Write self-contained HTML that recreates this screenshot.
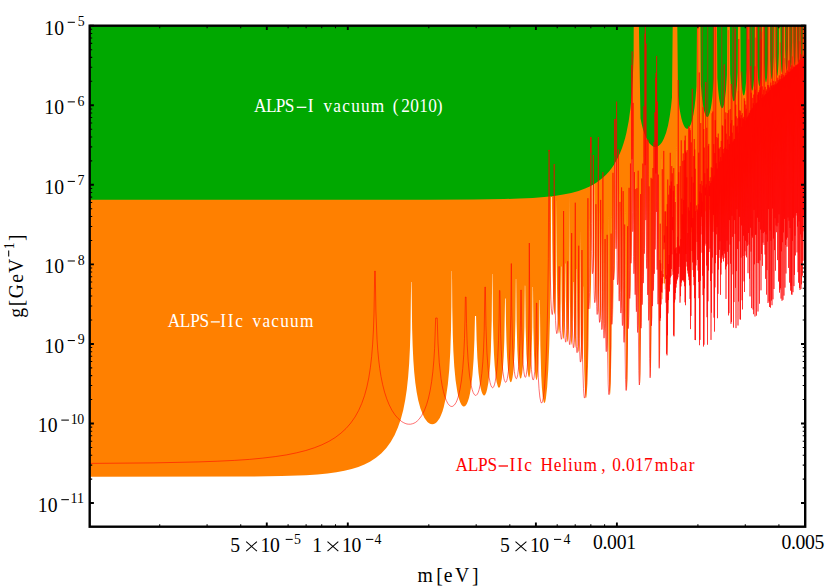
<!DOCTYPE html>
<html><head><meta charset="utf-8"><title>ALPS sensitivity</title>
<style>.tx text{font-family:"Liberation Serif",serif;font-kerning:none;}html,body{margin:0;padding:0;background:#fff;}body{width:830px;height:586px;position:relative;overflow:hidden;font-family:"Liberation Serif",serif;}</style>
</head><body>
<svg width="830" height="586" viewBox="0 0 830 586" style="position:absolute;left:0;top:0"><defs><clipPath id="c"><rect x="89.7" y="25.7" width="715.5" height="501.00000000000006"/></clipPath></defs><g clip-path="url(#c)"><path d="M89.7,25.7 L89.70,476.8 L247.66,476.6 L281.58,476.1 L305.97,475.2 L317.39,474.5 L327.43,473.5 L336.37,472.3 L344.40,470.8 L351.70,469.1 L358.33,467 L364.38,464.5 L369.91,461.7 L376.00,457.8 L381.46,453.2 L386.34,447.9 L390.69,441.9 L394.53,435.2 L397.89,427.6 L400.79,419.2 L403.25,409.9 L405.21,400.1 L406.83,389.2 L408.13,377.1 L409.16,363.4 L409.92,348.2 L410.48,330.4 L411.11,282 L411.52,282 L412.12,328.5 L412.64,345.6 L413.35,360.2 L414.22,372.2 L415.31,382.7 L416.64,392 L418.22,400.2 L420.45,408.5 L423.03,415.1 L424.45,417.9 L425.93,420.1 L427.47,421.9 L429.05,423.2 L430.65,424 L432.25,424.2 L433.84,424 L435.40,423.2 L436.91,421.9 L438.37,420.1 L439.76,417.9 L441.08,415.1 L442.48,411.4 L443.78,407.1 L446.05,396.8 L447.87,384.3 L449.28,369.2 L450.27,352.1 L450.97,331.2 L451.41,305.9 L451.68,271 L451.97,271 L452.25,307.3 L452.75,333.8 L453.39,351.6 L454.27,366.5 L455.58,380.3 L457.25,391.4 L458.23,396 L459.29,399.7 L460.42,402.7 L461.60,404.9 L462.89,406.2 L463.55,406.5 L464.20,406.5 L465.49,405.7 L466.74,404 L467.92,401.3 L469.03,397.7 L470.05,393.2 L470.98,387.7 L472.48,375 L473.62,359.2 L474.43,340.1 L474.98,316 L476.05,316 L476.60,339.6 L477.39,357.9 L478.50,372.8 L479.93,384.2 L480.75,388.5 L481.62,391.7 L482.54,394 L483.48,395.2 L483.96,395.4 L484.43,395.4 L485.37,394.4 L486.28,392.4 L487.14,389.3 L488.31,382.9 L489.33,374.3 L490.17,363.9 L490.85,351.2 L491.73,320.1 L492.17,274 L492.48,274 L492.95,321.6 L493.37,339.1 L493.95,353.8 L494.67,365.5 L495.55,374.8 L496.59,381.9 L497.75,386.2 L498.45,387.5 L498.81,387.7 L499.16,387.7 L499.86,386.9 L500.54,385.1 L501.79,378.8 L502.86,368.9 L503.68,356.4 L504.30,341.1 L505.06,298.6 L505.67,298.6 L505.99,322.9 L506.46,341.8 L507.12,357.2 L507.99,369.2 L509.02,377.4 L509.59,380.1 L510.18,381.7 L510.78,382.3 L511.38,381.7 L511.96,380.1 L512.52,377.5 L513.21,372.4 L513.82,365.7 L514.79,347.4 L515.48,319.5 L515.85,279.2 L515.86,279 L516.18,279 L516.59,321.7 L517.38,350.6 L517.98,361.9 L518.70,370.5 L519.52,376.1 L519.96,377.8 L520.41,378.6 L520.87,378.6 L521.32,377.7 L522.17,373.3 L522.92,365.9 L523.55,355.4 L524.40,327.3 L524.84,285.6 L525.21,285.7 L525.63,326.4 L526.42,354 L527.52,370.5 L528.19,375.2 L528.89,377.3 L529.28,377.2 L529.66,376.3 L530.38,372.1 L531.02,364.8 L531.55,354.8 L532.28,327.3 L532.66,287 L532.99,287 L533.37,327.7 L534.07,355.4 L535.04,372.3 L535.62,377.3 L536.24,379.8 L536.55,380 L536.86,379.5 L537.45,376.6 L537.98,371.1 L538.44,363.1 L539.15,338 L539.53,300 L539.88,300 L540.35,345.6 L541.25,376.3 L541.92,388 L542.72,396.6 L543.61,401.7 L544.08,402.8 L544.56,403 L545.23,401.7 L545.90,398.5 L547.17,387 L548.30,369 L549.26,345.2 L550.01,316.9 L550.58,283.7 L551.26,197 L551.95,197 L552.25,241.7 L552.70,274.9 L553.34,299.2 L554.12,312.5 L554.38,314.2 L554.63,314.6 L555.12,311.8 L555.55,304.2 L555.89,292.3 L556.29,260.2 L556.55,197.8 L556.98,286.4 L557.50,312.4 L558.25,328.7 L558.70,332.8 L558.93,333.6 L559.15,333.5 L559.59,330.9 L559.99,325.1 L560.64,302.7 L561.01,266.5 L561.38,266.5 L561.70,300.9 L562.24,324.4 L563.03,337.7 L563.47,339.3 L563.90,337.4 L564.40,329.9 L564.80,317.7 L565.16,295.7 L565.39,263.5 L565.66,263.5 L565.91,297.7 L566.30,320.9 L566.90,336.8 L567.25,340.9 L567.62,342.3 L568.09,339.7 L568.51,332.6 L569.13,305.8 L569.43,265.3 L569.55,194 L569.90,298.7 L570.34,325.9 L571.01,341.8 L571.34,344.4 L571.51,344.8 L571.68,344.4 L572.31,336.1 L572.83,315.4 L573.15,282.1 L573.51,282.1 L573.79,313.7 L574.25,335.4 L574.90,346.9 L575.07,347.7 L575.25,347.7 L575.59,345.3 L575.99,337.3 L576.32,324 L576.77,269.1 L576.97,269.1 L577.21,309.2 L577.63,335.6 L578.28,350.8 L578.64,352.7 L579.00,350.5 L579.52,338 L579.88,315.7 L580.23,229.2 L580.48,310 L580.76,334.5 L581.16,351.5 L581.51,359 L581.89,362 L582.08,361.8 L582.26,360.3 L582.59,353.9 L583.05,329.4 L583.29,286.6 L583.45,286.6 L583.70,335 L584.20,368.7 L585.02,390.9 L585.52,396.6 L585.78,397.9 L586.05,398.1 L586.40,396.9 L586.74,394.1 L587.40,383.4 L587.98,366.7 L588.45,345.1 L589.00,292.7 L589.20,214.8 L589.40,276.3 L589.73,303.1 L590.02,308.8 L590.10,309 L590.19,308.8 L590.36,307 L591.05,282.3 L591.74,203.3 L591.94,67.1 L592.01,140.6 L592.08,152.4 L592.16,146.6 L592.26,32.3 L592.47,200.4 L592.83,246.3 L593.37,271.1 L593.63,273.8 L593.87,271.3 L594.24,252.3 L594.55,157.2 L594.81,256.2 L595.16,285.2 L595.65,300.8 L595.92,302.7 L596.18,300.5 L596.60,284.5 L597.06,206.5 L597.20,258.7 L597.51,293.2 L598.04,312.6 L598.19,314.2 L598.35,314.4 L598.64,310.6 L599.15,280.5 L599.44,209.6 L599.64,278.4 L600.15,315.1 L600.42,321.2 L600.57,322.3 L600.71,322.1 L601.21,308.5 L601.74,226.5 L602.10,305.3 L602.51,325.2 L602.75,329.2 L602.88,329.7 L603.00,329 L603.37,319.2 L603.64,298.8 L603.93,219.3 L604.10,290 L604.56,329.2 L604.83,336.6 L604.97,338.1 L605.04,338.3 L605.11,338.1 L605.60,323.8 L606.05,234.6 L606.37,321.2 L606.75,344.5 L606.99,350.3 L607.23,351.6 L607.63,341.6 L607.89,317.6 L608.09,211.5 L608.18,298.7 L608.44,346.1 L609.02,380.9 L609.41,390.6 L609.84,394.6 L609.96,394.7 L610.08,394.3 L610.32,392.2 L610.78,382.7 L611.50,345.6 L611.85,293.9 L611.97,208.6 L612.13,292 L612.54,322.9 L612.66,324.3 L612.78,324 L613.03,318.6 L613.47,290.9 L613.82,187.1 L614.15,270.2 L614.50,280 L614.92,267 L615.48,193.1 L615.63,54.5 L615.73,150.6 L615.81,155 L615.88,141.8 L615.95,71.9 L616.12,191.3 L616.34,226.8 L616.65,246.5 L616.80,248.9 L616.94,247 L617.17,230.6 L617.39,148.9 L617.56,235.2 L618.03,278.9 L618.22,283.9 L618.32,284.7 L618.42,284.3 L618.75,270.6 L619.09,191.8 L619.25,257 L619.62,293.4 L619.82,299.8 L620.02,300.9 L620.37,288.1 L620.74,207.8 L621.00,286.8 L621.29,307.7 L621.46,312.4 L621.55,313.2 L621.64,313 L621.93,303.5 L622.13,282.7 L622.33,196.9 L622.45,273.5 L622.78,314.8 L622.98,323.3 L623.20,325.5 L623.57,311.1 L623.89,217.7 L624.12,309.8 L624.41,334.7 L624.77,342.4 L625.06,333 L625.25,309.8 L625.40,207.1 L625.68,341.6 L626.13,376.5 L626.43,386.4 L626.76,390.4 L626.93,390.2 L627.10,388.3 L627.43,379.7 L627.95,345.8 L628.21,297.9 L628.31,220.3 L628.44,296.2 L628.75,326.6 L628.94,328.4 L629.14,323.3 L629.47,296.2 L629.72,186.9 L629.95,282.4 L630.24,298.3 L630.33,298.5 L630.42,297.3 L630.60,290.1 L630.98,239.5 L631.10,136.4 L631.28,245.2 L631.53,262.9 L631.61,263.6 L631.69,262.7 L631.86,256.1 L632.32,187.4 L632.44,49.1 L632.50,142.5 L632.58,159.5 L632.67,152 L632.76,37.2 L632.86,171.3 L633.22,228.5 L633.33,231.7 L633.44,230.3 L633.61,213.9 L633.76,128.3 L633.87,214.6 L634.16,261.1 L634.50,274 L634.80,260.6 L635.05,166.2 L635.24,262.1 L635.49,288 L635.64,293.7 L635.72,294.7 L635.80,294.3 L636.16,263.8 L636.30,183.6 L636.49,279.4 L636.72,304.3 L637.02,311.8 L637.40,279.7 L637.53,190.8 L637.70,294.5 L637.93,322.6 L638.24,332.4 L638.47,323.4 L638.62,300.2 L638.73,201.1 L638.97,335.3 L639.34,370.7 L639.85,384.9 L640.14,382.5 L640.41,373.2 L640.82,336.5 L641.07,194.7 L641.16,291.7 L641.46,327.5 L641.54,328.6 L641.62,327.9 L641.79,320.9 L642.04,290.4 L642.20,166 L642.28,259.5 L642.52,300 L642.68,304.8 L642.85,301.5 L643.13,273.9 L643.32,148.5 L643.48,262.6 L643.73,282.7 L643.81,283.2 L643.89,281.9 L644.04,274.1 L644.36,204 L644.41,30.8 L644.45,193.7 L644.70,250.6 L644.86,253.8 L645.04,246.2 L645.32,204.7 L645.48,45.2 L645.54,148.9 L645.61,165 L645.70,159.7 L645.80,33.9 L645.87,161.7 L646.12,215.9 L646.21,219.9 L646.30,218.5 L646.43,201.4 L646.54,101 L646.61,199.1 L646.84,252.3 L647.13,268.8 L647.39,254.7 L647.57,143.5 L647.72,257.6 L647.93,286.8 L648.07,293.9 L648.14,295 L648.21,294.3 L648.50,258.1 L648.59,156.8 L648.65,251.9 L648.87,304.5 L649.17,320.4 L649.42,305.4 L649.59,194.8 L649.79,327.1 L650.11,363.3 L650.54,377.7 L650.78,375.4 L651.00,366.3 L651.33,330.6 L651.53,192.7 L651.62,292.5 L651.91,325.7 L652.16,317 L652.35,287.9 L652.48,177.8 L652.76,301.5 L652.89,306.1 L653.02,303.7 L653.25,279.2 L653.42,167.7 L653.57,270.9 L653.78,289.8 L654.03,282.9 L654.27,233 L654.34,128.7 L654.58,267.4 L654.71,273.8 L654.85,271.6 L655.09,243.6 L655.24,115.4 L655.35,224.6 L655.50,246.4 L655.60,249.5 L655.71,246.7 L656.04,189.7 L656.14,70 L656.20,159.8 L656.28,173.9 L656.36,166.2 L656.45,66.6 L656.69,208.5 L656.83,211.7 L656.93,195.8 L657.01,103.7 L657.17,231.5 L657.40,264.7 L657.53,269.7 L657.65,266.1 L657.88,124.5 L658.12,285.9 L658.37,304.2 L658.59,291.3 L658.73,177.8 L658.91,314.4 L659.19,352.5 L659.58,368.3 L659.78,365.9 L659.97,356.5 L660.24,321.2 L660.40,182.2 L660.53,302 L660.74,320.8 L660.99,307.4 L661.22,148.5 L661.29,264.1 L661.53,303.3 L661.63,304.1 L661.74,299.2 L662.42,299.2 L662.58,284.3 L663.21,284.3 L663.55,225.5 L664.00,283.5 L664.76,283.5 L664.77,289.2 L665.30,289.2 L665.31,274.7 L665.68,274.7 L665.69,279 L666.27,279 L666.28,276.4 L666.39,279.5 L666.66,222.8 L666.89,316.4 L667.13,344.4 L667.42,355.4 L667.63,351.2 L667.82,336.1 L668.05,280.7 L668.35,311.4 L668.45,313.2 L668.55,308.3 L668.79,236.3 L669.13,299.9 L669.40,277.7 L669.68,277.7 L669.80,290 L669.86,291.5 L669.93,289.9 L670.15,255.7 L670.32,255.7 L670.53,284.1 L670.72,275.1 L671.16,275.1 L671.27,277.3 L671.62,196.4 L671.74,253.6 L671.97,268.1 L672.26,186.1 L672.62,271.5 L673.10,271.5 L673.11,233.1 L673.43,233.1 L673.44,249.3 L673.71,249.3 L674.05,320.9 L674.24,334 L674.34,336.3 L674.44,335.5 L674.70,314.1 L674.85,268.7 L675.14,301 L675.24,301.9 L675.34,294.3 L675.54,192.5 L675.75,288.7 L675.83,292.9 L675.91,291.4 L676.05,272.8 L676.17,183.9 L676.29,267.8 L676.42,285.9 L676.50,287.4 L676.57,284 L676.80,137.1 L676.87,248 L677.09,283.6 L677.39,217.7 L677.68,279.7 L677.93,256.8 L678.14,256.8 L678.31,277.2 L678.51,260.7 L678.77,260.7 L678.98,272.4 L679.25,186.6 L679.44,264 L679.56,265.9 L679.69,251.3 L679.99,251.3 L680.18,215.8 L680.36,282.1 L680.51,299.4 L680.59,302.5 L680.67,301.9 L680.91,265.5 L681.00,165.7 L681.25,286 L681.53,235.4 L681.76,277.5 L681.84,282.4 L681.92,280.3 L682.11,229.8 L682.47,279.7 L682.69,207.5 L682.95,279.2 L683.23,230.5 L683.44,273.3 L683.52,279.5 L683.60,278.2 L683.85,218.9 L684.03,277.8 L684.12,280.2 L684.20,274.2 L684.40,227.9 L684.66,282 L684.93,209.2 L685.11,282 L685.21,286 L685.31,277.5 L685.47,222.7 L685.60,286 L685.85,305 L686.09,280.7 L686.25,223.6 L686.40,223.6 L686.51,129.8 L686.77,257.3 L687.05,183 L687.27,265.6 L687.59,218.9 L687.77,268.8 L688.12,231 L688.36,273 L688.61,221.1 L688.86,276.3 L689.10,188.1 L689.28,277 L689.38,279.4 L689.47,268.4 L689.58,210.5 L689.75,278.3 L689.88,284.7 L689.99,268.8 L690.25,304.7 L690.50,259.5 L690.75,329.1 L691.00,267.5 L691.25,312.7 L691.50,267.4 L691.75,232.2 L692.00,232.2 L692.25,253.5 L692.50,250.8 L692.75,263.3 L693.00,252.2 L693.25,270.1 L693.50,242.5 L693.75,276.8 L694.00,255.1 L694.25,285.2 L694.50,262.8 L694.75,298.2 L695.00,252.2 L695.25,340.1 L695.50,253.3 L695.75,339.8 L696.00,239.3 L696.25,265.4 L696.50,236.4 L696.75,211.8 L697.00,211.8 L697.25,246.5 L697.50,231.2 L697.75,259.9 L698.00,233.9 L698.25,270.5 L698.50,225.3 L698.75,282 L699.00,242.4 L699.25,298.1 L699.50,231.9 L699.75,345.2 L700.00,248.4 L700.25,333.6 L700.50,246.2 L700.75,274.6 L701.00,219.4 L701.25,213 L701.50,213 L701.75,225.9 L702.00,225.9 L702.25,259.9 L702.50,234.1 L702.75,275.7 L703.00,229.9 L703.25,295.1 L703.50,240.6 L703.75,346.5 L704.00,237.3 L704.25,339 L704.50,222.8 L704.75,281 L705.00,221.7 L705.25,237.8 L705.50,212.3 L705.75,210.6 L706.00,210.6 L706.25,243.7 L706.50,209.2 L706.75,266.4 L707.00,208.8 L707.25,333.9 L707.50,216.9 L707.75,344.7 L708.00,204.2 L708.25,291.4 L708.50,207.7 L708.75,270.5 L709.00,205.6 L709.25,234.1 L709.50,224.3 L709.75,209.7 L710.00,209.7 L710.25,248.6 L710.50,213.4 L710.75,317 L711.00,201.3 L711.25,339.9 L711.50,213.6 L711.75,290.9 L712.00,195.4 L712.25,273.4 L712.50,204 L712.75,247.8 L713.00,201.2 L713.25,231.7 L713.50,214.6 L713.75,250.2 L714.00,209.9 L714.25,329.9 L714.50,208.7 L714.75,331.6 L715.00,201.7 L715.25,287.3 L715.50,216.9 L715.75,263.3 L716.00,203.3 L716.25,252 L716.50,199.4 L716.75,234.3 L717.00,210.5 L717.25,279.3 L717.50,208.2 L717.75,318.2 L718.00,199.6 L718.25,280.5 L718.50,196.8 L718.75,262.8 L719.00,186.5 L719.25,257.8 L719.50,197.7 L719.75,248.4 L720.00,184.1 L720.25,233 L720.50,185.5 L720.75,294.8 L721.00,181.4 L721.25,269.1 L721.50,203 L721.75,259.3 L722.00,204.7 L722.25,256.3 L722.50,187.7 L722.75,255.3 L723.00,193.9 L723.25,261.4 L723.50,201.8 L723.75,249.3 L724.00,183.9 L724.25,252.2 L724.50,197 L724.75,253.7 L725.00,182.2 L725.25,257.9 L725.50,177 L725.75,269.4 L726.00,192.1 L726.25,298.9 L726.50,189.8 L726.75,231 L727.00,188.9 L727.25,246.6 L727.50,170.4 L727.75,257.2 L728.00,193.3 L728.25,276.1 L728.50,182.6 L728.75,315.4 L729.00,179.6 L729.25,281.2 L729.50,187.6 L729.75,234.7 L730.00,171.9 L730.25,253.6 L730.50,168.3 L730.75,278.7 L731.00,167.2 L731.25,323.8 L731.50,162.2 L731.75,285.4 L732.00,170.3 L732.25,213.6 L732.50,172.4 L732.75,246.2 L733.00,180.7 L733.25,278 L733.50,164.7 L733.75,327.7 L734.00,161 L734.25,267.5 L734.50,175.9 L734.75,209.3 L735.00,154.6 L735.25,252.6 L735.50,165.1 L735.75,327.6 L736.00,164.6 L736.25,328.1 L736.50,151.7 L736.75,250.4 L737.00,179.7 L737.25,211.4 L737.50,158 L737.75,266.7 L738.00,150.6 L738.25,325.5 L738.50,171.2 L738.75,274.7 L739.00,175.6 L739.25,235.2 L739.50,159.8 L739.75,239.7 L740.00,159.7 L740.25,319.6 L740.50,167.1 L740.75,280.4 L741.00,156.2 L741.25,246.6 L741.50,156 L741.75,221.9 L742.00,164.5 L742.25,309.4 L742.50,162.1 L742.75,296.2 L743.00,162.5 L743.25,248.2 L743.50,141 L743.75,235 L744.00,154.9 L744.25,292 L744.50,145.4 L744.75,273.6 L745.00,163.8 L745.25,246.6 L745.50,152.2 L745.75,238.4 L746.00,150 L746.25,257.4 L746.50,155.8 L746.75,245.3 L747.00,157.4 L747.25,243.4 L747.50,155.3 L747.75,250.9 L748.00,156.7 L748.25,273.1 L748.50,131.2 L748.75,236.8 L749.00,132 L749.25,250.5 L749.50,157.6 L749.75,296.4 L750.00,135.5 L750.25,278.9 L750.50,152.6 L750.75,235.3 L751.00,136.2 L751.25,265.3 L751.50,149.8 L751.75,308.1 L752.00,144.5 L752.25,212 L752.50,146.9 L752.75,249.6 L753.00,124.8 L753.25,314.2 L753.50,150.1 L753.75,264 L754.00,136 L754.25,228 L754.50,141.5 L754.75,315.1 L755.00,149 L755.25,316.4 L755.50,138.9 L755.75,211.1 L756.00,127.9 L756.25,261.7 L756.50,128.5 L756.75,315.6 L757.00,122.8 L757.25,242.6 L757.50,136.5 L757.75,249.2 L758.00,140.5 L758.25,311.5 L758.50,124.1 L758.75,246.2 L759.00,133.7 L759.25,232 L759.50,120 L759.75,303.7 L760.00,122.6 L760.25,246.4 L760.50,116.2 L760.75,221.6 L761.00,117.8 L761.25,290.3 L761.50,130.7 L761.75,243.3 L762.00,126.7 L762.25,224.6 L762.50,113.4 L762.75,265.7 L763.00,139.1 L763.25,234.2 L763.50,126 L763.75,245.1 L764.00,129.7 L764.25,239.2 L764.50,131.1 L764.75,234.7 L765.00,115.2 L765.25,278.8 L765.50,138.5 L765.75,218.8 L766.00,135.9 L766.25,242 L766.50,114.1 L766.75,294.6 L767.00,115 L767.25,221.5 L767.50,124.4 L767.75,289.5 L768.00,130.7 L768.25,303 L768.50,131.2 L768.75,223.9 L769.00,114.9 L769.25,307 L769.50,128.1 L769.75,247.7 L770.00,135 L770.25,253 L770.50,130.2 L770.75,307.6 L771.00,132.1 L771.25,212.1 L771.50,110.8 L771.75,305.2 L772.00,104.2 L772.25,255.1 L772.50,121.8 L772.75,289 L773.00,120.8 L773.25,299.4 L773.50,118.6 L773.75,218.6 L774.00,125.5 L774.25,288.9 L774.50,104.1 L774.75,237.1 L775.00,124.9 L775.25,270.6 L775.50,120.3 L775.75,240.4 L776.00,105.3 L776.25,223.1 L776.50,110.9 L776.75,232.1 L777.00,122 L777.25,235 L777.50,114.6 L777.75,260.1 L778.00,122.2 L778.25,233.8 L778.50,101.8 L778.75,281.5 L779.00,117.7 L779.25,225.6 L779.50,101.8 L779.75,292.6 L780.00,125 L780.25,220.3 L780.50,118.6 L780.75,298.6 L781.00,115 L781.25,231.4 L781.50,124.1 L781.75,300.8 L782.00,107.6 L782.25,244 L782.50,98.4 L782.75,299.8 L783.00,96.1 L783.25,247.9 L783.50,112.3 L783.75,295.7 L784.00,100.4 L784.25,247.9 L784.50,99.1 L784.75,287.5 L785.00,106.9 L785.25,244.9 L785.50,114.8 L785.75,273.4 L786.00,110.4 L786.25,228.5 L786.50,112.7 L786.75,246.8 L787.00,90.4 L787.25,221.6 L787.50,89.6 L787.75,237.4 L788.00,95.6 L788.25,230.9 L788.50,92.2 L788.75,267.9 L789.00,98.1 L789.25,264.4 L789.50,101 L789.75,282.5 L790.00,96.5 L790.25,290.6 L790.50,92.3 L790.75,247.9 L791.00,97.2 L791.25,294.3 L791.50,112.1 L791.75,216.8 L792.00,109.7 L792.25,294.8 L792.50,85.4 L792.75,273.3 L793.00,94.6 L793.25,292.1 L793.50,110.5 L793.75,286.1 L794.00,107.8 L794.25,240.5 L794.50,111.8 L794.75,275 L795.00,83.7 L795.25,229.5 L795.50,99.3 L795.75,255.4 L796.00,84.4 L796.25,211.5 L796.50,84.2 L796.75,218.8 L797.00,96.4 L797.25,252.3 L797.50,102.6 L797.75,272.1 L798.00,80.9 L798.25,223.8 L798.50,83.4 L798.75,282.5 L799.00,105.1 L799.25,288.1 L799.50,93.6 L799.75,244.4 L800.00,83.5 L800.25,290 L800.50,102.7 L800.75,288.7 L801.00,88.7 L801.25,243.3 L801.50,97.9 L801.75,284.4 L802.00,83.2 L802.25,275.9 L802.50,77.3 L802.75,233.9 L803.00,94 L803.25,260.8 L803.50,102.2 L803.75,231.2 L804.00,93.3 L804.25,228.1 L804.50,101 L804.75,233.2 L805.00,95.2 L805.20,163.4 L805.2,25.7 Z" fill="#ff8000"/><path d="M89.7,25.7 L89.70,199.7 L426.75,199.7 L473.58,199.5 L504.14,199 L519.67,198.6 L532.82,197.9 L544.22,197.1 L554.23,196 L563.22,194.6 L571.27,192.9 L578.53,190.9 L585.12,188.5 L589.17,186.7 L592.97,184.7 L596.55,182.5 L599.91,180.1 L603.07,177.5 L606.03,174.7 L608.81,171.7 L611.41,168.4 L613.84,164.9 L616.11,161.1 L618.21,157.1 L620.16,152.8 L621.95,148.2 L623.59,143.3 L625.09,138.2 L626.45,132.7 L628.69,121.2 L630.47,108.3 L631.85,93.5 L632.87,76.5 L633.60,55.8 L633.77,17.7 L638.76,17.7 L640.50,118.6 L641.67,124.1 L642.96,129.1 L644.38,133.5 L645.92,137.3 L647.58,140.5 L649.33,143.2 L651.16,145.1 L653.03,146.4 L654.48,146.9 L655.93,146.9 L657.36,146.6 L658.76,145.8 L660.12,144.6 L661.44,143 L662.70,140.9 L663.91,138.5 L666.11,132.7 L668.04,125.4 L669.70,116.6 L671.09,106.5 L672.00,97.5 L672.78,17.7 L677.23,17.7 L678.00,95.6 L679.50,108.3 L680.39,113.6 L681.38,118.2 L682.45,122 L683.60,125.1 L684.80,127.2 L686.04,128.5 L686.85,128.8 L687.66,128.7 L688.46,128.2 L689.24,127.3 L690.75,124.4 L692.15,120.1 L693.40,114.4 L694.51,107.4 L695.47,99.1 L696.28,89.5 L696.50,86.3 L697.03,17.7 L700.37,17.7 L700.90,85 L701.97,97.4 L703.30,107 L704.06,110.7 L704.87,113.6 L705.71,115.6 L706.58,116.8 L707.14,117 L707.70,116.9 L708.25,116.4 L708.79,115.5 L709.84,112.6 L710.81,108.4 L711.68,102.9 L712.46,96.2 L713.71,79.1 L714.13,17.7 L716.90,17.7 L717.31,78.1 L718.14,89.9 L719.16,99 L720.35,105.2 L720.99,107 L721.64,108.1 L722.05,108.3 L722.45,108.1 L723.25,106.9 L724.01,104.4 L724.73,100.7 L725.98,89.8 L726.95,74.7 L727.31,17.7 L729.79,17.7 L729.80,17.7 L730.15,73.9 L730.83,84.7 L731.64,93 L732.57,98.5 L733.06,100.2 L733.57,101.1 L733.88,101.3 L734.18,101.2 L734.79,100.2 L735.38,98 L735.93,94.8 L736.91,85.4 L737.70,72.3 L738.03,17.7 L740.37,17.7 L740.70,71.3 L741.26,80.8 L741.91,88.1 L742.65,93 L743.04,94.5 L743.44,95.3 L743.69,95.5 L743.93,95.4 L744.42,94.5 L744.89,92.6 L745.34,89.8 L746.15,81.3 L746.81,69.6 L747.11,17.7 L749.31,17.7 L749.61,68.8 L750.08,77.3 L750.63,83.9 L751.24,88.3 L751.88,90.4 L752.09,90.6 L752.29,90.5 L752.69,89.7 L753.46,85.3 L754.14,77.7 L754.71,66.8 L754.98,17.7 L757.04,17.7 L757.31,66 L758.18,79.9 L758.69,84 L759.24,86 L759.41,86.2 L759.59,86.2 L759.94,85.4 L760.60,81.4 L761.19,74.2 L761.69,64 L761.94,17.7 L763.85,17.7 L764.09,63 L764.85,76.3 L765.30,80.2 L765.77,82.2 L766.08,82.3 L766.39,81.6 L766.99,77.6 L767.52,70.4 L767.97,60.2 L768.19,17.7 L769.92,17.7 L770.13,59.5 L770.82,72.8 L771.22,76.7 L771.64,78.7 L771.93,78.9 L772.21,78.2 L772.75,74.2 L773.23,67 L773.64,56.8 L773.84,17.7 L775.41,17.7 L775.60,56.2 L776.22,69.5 L776.58,73.4 L776.97,75.5 L777.24,75.7 L777.50,75.1 L778.00,71 L778.45,63.6 L778.82,53.3 L778.99,17.7 L780.41,17.7 L780.58,52.4 L781.15,66.2 L781.49,70.4 L781.85,72.6 L782.10,72.9 L782.35,72.2 L782.82,68 L783.24,60.4 L783.59,49.5 L783.73,17.7 L785.03,17.7 L785.17,48.9 L785.70,63.2 L786.01,67.5 L786.34,69.8 L786.58,70.2 L786.82,69.6 L787.27,65.3 L788.00,46 L788.12,17.7 L789.30,17.7 L789.42,45.4 L789.90,59.9 L790.50,67.2 L790.73,67.8 L790.96,67.2 L791.40,62.9 L792.10,42.5 L792.21,17.7 L793.27,17.7 L793.38,41.8 L793.82,56.8 L794.37,64.6 L794.59,65.4 L794.81,65.1 L795.24,60.8 L795.92,39.8 L796.03,17.7 L796.99,17.7 L797.09,38.5 L797.62,56.8 L797.94,61.6 L798.29,63.3 L798.66,61.4 L799.00,55.9 L799.54,35.2 L799.62,17.7 L800.50,17.7 L800.58,35.3 L801.08,54.3 L801.39,59.5 L801.73,61.3 L802.07,59.5 L802.39,54.1 L802.90,33.8 L802.98,17.7 L803.82,17.7 L803.92,35.1 L804.49,55.1 L804.84,59 L805.02,59.3 L805.20,58.5 L805.2,25.7 Z" fill="#00a800"/><path d="M89.70,463.4 L153.14,462.9 L198.92,461.9 L217.79,461.2 L234.49,460.4 L249.40,459.4 L262.79,458.1 L275.24,456.6 L286.47,454.9 L296.64,452.8 L305.87,450.5 L314.27,447.8 L321.90,444.8 L328.83,441.4 L335.11,437.6 L340.91,433.2 L346.13,428.4 L350.79,423 L354.94,417.1 L358.59,410.6 L361.78,403.4 L364.53,395.6 L366.88,387 L368.77,377.9 L370.35,367.8 L371.63,356.6 L372.65,344.1 L373.43,330 L374.01,313.9 L374.71,271 L375.26,271 L375.88,311.1 L377.04,339.7 L377.78,350.3 L378.68,359.9 L379.76,368.6 L381.02,376.6 L382.66,384.7 L384.56,392.1 L386.73,398.8 L389.18,404.8 L391.92,410.2 L394.91,414.8 L398.11,418.5 L401.45,421.4 L403.28,422.5 L405.12,423.4 L406.95,424 L408.77,424.2 L410.56,424.2 L412.31,423.8 L414.02,423.2 L415.68,422.3 L417.27,421 L418.80,419.5 L421.67,415.7 L424.27,410.7 L426.58,404.7 L428.52,398 L430.21,390.2 L431.65,381.5 L432.85,371.7 L433.83,360.7 L434.61,348.4 L435.68,318 L437.19,318 L438.01,343 L439.26,362.7 L441.04,378.7 L442.14,385.5 L443.38,391.3 L444.76,396.3 L446.26,400.4 L447.85,403.5 L449.51,405.5 L450.35,406.1 L451.20,406.4 L452.04,406.5 L452.87,406.2 L454.50,404.9 L456.05,402.5 L457.13,400.1 L458.15,397.1 L459.98,389.5 L461.52,379.9 L462.78,368.3 L463.75,354.7 L464.48,338.8 L465.00,320 L465.35,297 L466.08,297 L466.52,323.6 L467.20,344.5 L468.18,361.4 L469.50,375.1 L471.17,385.5 L472.12,389.4 L473.13,392.4 L474.19,394.4 L475.28,395.3 L475.82,395.4 L476.36,395.2 L477.42,394.1 L478.27,392.3 L479.09,389.8 L480.57,382.9 L481.83,373.5 L482.85,361.7 L483.62,347.9 L484.20,331.5 L484.88,287 L485.39,287 L485.93,325.6 L486.91,352.7 L488.25,370.4 L489.09,377.1 L490.02,382.3 L490.88,385.4 L491.78,387.2 L492.23,387.6 L492.69,387.7 L493.14,387.5 L493.59,386.9 L494.45,384.8 L495.27,381.4 L496.70,371.2 L497.76,357.6 L498.54,340.3 L499.08,318.5 L499.42,290.5 L499.95,290.5 L500.63,333.6 L501.20,349.3 L501.95,362.1 L502.84,371.6 L503.88,378.3 L504.45,380.5 L505.03,381.8 L505.62,382.3 L506.20,381.9 L506.79,380.5 L507.35,378.4 L508.38,371.5 L509.25,361.5 L509.94,348.7 L510.81,315.2 L511.21,263.6 L511.43,263.6 L511.44,264 L511.73,307.1 L512.30,337 L513.15,357.3 L514.33,371.3 L514.87,374.9 L515.44,377.3 L516.02,378.5 L516.32,378.7 L516.61,378.5 L517.19,377.2 L517.74,374.8 L518.73,366.3 L519.40,356.3 L519.94,343.4 L520.48,320.3 L520.80,290 L521.25,290 L521.70,327.7 L522.53,354.2 L523.13,364.3 L523.83,371.6 L524.62,376.1 L525.03,377.1 L525.44,377.3 L525.91,376.5 L526.36,374.6 L527.19,367.8 L527.88,357.1 L528.41,343 L529.04,305.2 L529.30,243 L529.93,328.3 L530.55,352.6 L531.45,369.5 L532.26,377 L532.69,379.1 L533.13,380 L533.35,379.9 L533.57,379.6 L533.99,378.1 L534.76,371.6 L535.38,361 L535.86,346.2 L536.42,303 L536.82,303 L537.32,346.7 L538.29,377.2 L539.00,388.7 L539.84,397 L540.77,401.8 L541.26,402.8 L541.76,403 L542.54,401.3 L543.31,397.4 L544.05,391.4 L544.76,383.2 L546.02,361.3 L547.04,332.6 L547.79,298.9 L548.33,258.6 L548.86,150 L549.05,150 L549.09,151.1 L549.12,150 L549.32,150 L549.61,222.7 L550.18,271.6 L550.91,299.2 L551.35,308.1 L551.82,313.3 L552.11,314.5 L552.26,314.6 L552.40,314.3 L552.94,309.5 L553.38,299.4 L553.72,284.1 L554.08,242.4 L554.21,164 L554.37,245.4 L554.74,289.3 L555.54,320.5 L556.09,329.6 L556.70,333.5 L556.91,333.6 L557.11,333 L557.49,330.1 L558.15,317.1 L558.60,296.6 L558.89,266.5 L559.27,266.5 L559.68,305.7 L560.42,330.4 L560.87,336.8 L561.36,339.3 L561.60,339 L561.84,337.7 L562.28,332.2 L562.83,316.8 L563.20,294.1 L563.59,211 L563.96,297.9 L564.41,322.8 L565.07,338.1 L565.51,341.8 L565.74,342.2 L565.96,341.6 L566.39,337.4 L566.76,329.6 L567.32,303 L567.61,261.3 L567.84,261.3 L568.13,303.3 L568.65,329.9 L569.03,339 L569.47,344 L569.70,344.7 L569.93,344.3 L570.36,340 L570.86,327.1 L571.22,306.8 L571.66,233 L571.83,286.9 L572.21,321.2 L572.90,343 L573.33,347.4 L573.55,347.8 L573.77,346.9 L574.14,342.3 L574.46,334 L574.92,307.5 L575.27,202.7 L575.53,300.7 L575.87,328.1 L576.40,346.1 L576.83,351.9 L577.06,352.7 L577.28,352 L577.69,346.5 L578.03,335.9 L578.43,306.8 L578.73,245.7 L578.91,302.3 L579.32,338.2 L579.66,351.4 L580.07,359.6 L580.29,361.6 L580.51,362.1 L580.93,358.4 L581.34,346.3 L581.63,326.4 L581.96,250 L582.14,317.9 L582.59,359.6 L583.47,388.4 L584.04,395.9 L584.35,397.7 L584.66,398.1 L585.03,397 L585.40,393.9 L586.10,382.4 L586.71,364.5 L587.19,341.5 L587.73,285.7 L587.91,198.2 L588.05,266.2 L588.33,298.2 L588.58,306.9 L588.73,308.8 L588.81,309 L588.90,308.9 L589.25,303.7 L589.59,292.3 L590.33,233 L590.66,137 L590.86,152.7 L590.96,137 L591.07,137.9 L591.38,223.6 L591.68,251.6 L592.07,269 L592.34,273.5 L592.41,273.8 L592.48,273.6 L592.61,272.3 L593.03,253.7 L593.36,155 L593.54,242.7 L594.09,290.1 L594.40,299.3 L594.74,302.7 L595.06,299.8 L595.34,290.8 L595.67,262.9 L595.92,204.2 L596.27,284.9 L596.67,306.7 L596.92,312.6 L597.18,314.5 L597.48,311.7 L597.75,303.2 L598.11,272.6 L598.32,137 L598.43,253.1 L598.86,305.9 L599.17,317.9 L599.53,322.4 L599.88,318.6 L600.17,307.4 L600.50,270.8 L600.67,199.9 L600.94,294 L601.30,319.4 L601.79,329.6 L602.07,327.7 L602.32,320.5 L602.67,292.9 L602.90,172 L603.05,281.6 L603.59,330.3 L603.86,337 L604.00,338.2 L604.14,338 L604.62,323.7 L605.08,239 L605.49,328.9 L605.97,349.3 L606.25,351.7 L606.51,348.1 L606.96,315.3 L607.15,234.8 L607.27,307.8 L607.58,353 L608.20,384.1 L608.60,392.2 L608.81,394.2 L609.03,394.7 L609.48,391.3 L609.90,382.2 L610.57,349.1 L610.93,303.6 L611.08,233.6 L611.47,315.6 L611.66,322.7 L611.77,324.2 L611.83,324.4 L611.89,324.2 L612.37,309.6 L612.82,259.7 L612.97,172.8 L613.25,265.8 L613.59,279.9 L613.80,278.2 L614.01,270.9 L614.56,215.1 L614.79,119 L614.96,155.6 L615.15,119 L615.56,230.3 L615.86,247.1 L616.02,248.8 L616.17,245.7 L616.48,206.9 L616.58,101.6 L616.72,225.9 L616.95,260.8 L617.30,281 L617.52,284.7 L617.73,282.5 L618.06,261 L618.30,149.5 L618.43,247.2 L618.88,294.7 L619.08,300.2 L619.19,301.1 L619.29,300.5 L619.64,285.6 L619.98,201.9 L620.30,292.3 L620.68,311.8 L620.89,313.1 L621.09,308.5 L621.45,271 L621.59,187.4 L621.82,293.3 L622.14,319.4 L622.34,325 L622.45,325.6 L622.55,324.8 L622.82,313.5 L623.01,289.3 L623.16,191.1 L623.27,281.6 L623.61,329.5 L623.82,339.3 L624.05,342.4 L624.43,327.1 L624.70,224.5 L625.03,347.1 L625.51,379.4 L625.82,387.8 L626.15,390.5 L626.49,387.1 L626.80,378 L627.29,344.9 L627.64,226.2 L627.92,317.2 L628.24,328.6 L628.62,315.9 L628.95,270.5 L629.07,187.8 L629.20,264.4 L629.51,296.3 L629.70,298.5 L629.89,293.7 L630.21,267.2 L630.46,163.5 L630.68,249.4 L630.93,263.3 L631.23,256.4 L631.69,190.9 L631.82,65 L631.89,145.8 L631.96,159.3 L632.05,152.9 L632.15,51.4 L632.43,212.8 L632.72,231.7 L632.98,217.9 L633.15,102.9 L633.30,224.1 L633.51,256.7 L633.81,273.1 L633.94,273.8 L634.06,270.9 L634.26,253.7 L634.46,172.1 L634.70,269.6 L635.00,292.2 L635.17,294.7 L635.33,291 L635.59,261.4 L635.73,189.1 L635.94,283.8 L636.20,307.2 L636.36,311.7 L636.52,310.5 L636.85,275 L636.96,188.1 L637.15,297.4 L637.42,325.9 L637.59,331.9 L637.67,332.5 L637.75,331.5 L638.09,292.2 L638.18,170.7 L638.39,330.6 L638.79,370.6 L639.07,381.6 L639.37,385 L639.65,381.4 L639.91,371.2 L640.30,334.1 L640.54,194.1 L640.62,288.9 L640.91,326.9 L641.07,328.2 L641.24,322.3 L641.50,293.7 L641.68,178.5 L641.77,264.2 L642.00,299.9 L642.15,304.7 L642.32,302.1 L642.60,276.7 L642.80,163.6 L642.95,259 L643.13,279.4 L643.25,283.1 L643.37,282.2 L643.80,230.9 L643.91,106.3 L644.03,229.4 L644.23,252.1 L644.37,253.7 L644.51,248.4 L644.90,178.4 L644.99,33.8 L645.04,145.7 L645.12,165.2 L645.22,156.9 L645.31,24.9 L645.37,156.3 L645.63,215.8 L645.74,220.1 L645.84,216.9 L645.98,189.4 L646.05,43.6 L646.11,190.5 L646.42,258.5 L646.71,268.5 L646.94,250.1 L647.09,139.4 L647.27,263.1 L647.54,291.8 L647.70,294.9 L647.84,289.9 L648.06,244.8 L648.12,139.7 L648.38,301.7 L648.69,320.4 L648.96,305.2 L649.12,186.4 L649.30,320.6 L649.59,358.7 L650.00,376.8 L650.13,377.8 L650.26,376.8 L650.51,368.5 L650.88,331.2 L651.09,177.8 L651.17,290.6 L651.48,325.8 L651.73,316 L651.91,288.2 L652.04,178.8 L652.32,301.2 L652.45,306.1 L652.59,303.5 L652.82,278.7 L652.98,168 L653.14,270.9 L653.34,289.5 L653.40,290.5 L653.47,289.8 L653.59,284 L653.83,240 L653.91,142.1 L654.04,249.9 L654.23,272.1 L654.35,273.8 L654.47,269.4 L654.74,222.8 L654.83,112.4 L654.93,223.8 L655.09,246.7 L655.20,249.4 L655.31,245.9 L655.62,193 L655.72,78.1 L655.82,168.7 L655.90,173.4 L655.98,156.5 L656.04,72.8 L656.14,178.7 L656.42,211.9 L656.61,55.9 L656.68,200.3 L657.02,266.2 L657.14,269.7 L657.25,266.1 L657.40,239.7 L657.48,101.6 L657.55,240 L657.86,299.8 L657.97,304.2 L658.07,303.1 L658.23,284.2 L658.34,174.6 L658.46,298.8 L658.93,361 L659.12,367.4 L659.22,368.3 L659.31,367.7 L659.66,350.3 L659.99,260 L660.00,320.9 L660.25,223.7 L660.50,318.1 L660.75,263.4 L661.00,304.4 L661.25,270.8 L661.50,291.9 L661.75,278.1 L662.00,292.6 L662.25,169.2 L662.50,281.8 L662.75,283 L663.00,274.1 L663.25,276.8 L663.50,269.4 L663.75,150.9 L664.00,249.4 L664.25,235.4 L664.50,242.5 L664.75,229 L665.00,211.4 L665.25,276.4 L665.50,278.7 L665.75,211.5 L666.00,302.7 L666.25,275.1 L666.50,353.8 L666.75,226.2 L667.00,355.4 L667.25,204.2 L667.50,335.3 L667.75,179.5 L668.00,313.4 L668.25,264 L668.50,300.1 L668.75,194.7 L669.00,290.5 L669.25,255 L669.50,291.5 L669.75,185.6 L670.00,284.4 L670.25,152.8 L670.50,277.5 L670.75,188.5 L671.00,276.2 L671.25,181.5 L671.50,269 L671.75,166.1 L672.00,254.3 L672.25,173.3 L672.50,230.1 L672.75,217 L673.00,274.8 L673.25,190.9 L673.50,335.3 L673.75,168.1 L674.00,336.4 L674.25,185.9 L674.50,302.5 L674.75,249.6 L675.00,299.5 L675.25,202 L675.50,293 L675.75,248.1 L676.00,287.6 L676.25,247.3 L676.50,283.6 L676.75,253.3 L677.00,280.4 L677.25,184.1 L677.50,279.1 L677.75,236.7 L678.00,277.3 L678.25,80 L678.50,273.7 L678.75,172.2 L679.00,266.9 L679.25,245.7 L679.50,253.6 L679.75,247.3 L680.00,302.7 L680.25,166.1 L680.50,296.2 L680.75,239.1 L681.00,286.4 L681.25,140.3 L681.50,282.5 L681.75,198.7 L682.00,280.8 L682.25,214.3 L682.50,280 L682.75,160.9 L683.00,279.9 L683.25,153.4 L683.50,280.5 L683.75,200 L684.00,282.1 L684.25,160.1 L684.50,286.2 L684.75,140.4 L685.00,302.3 L685.25,135.7 L685.50,305.2 L685.75,150.7 L686.00,254 L686.25,152.5 L686.50,261.7 L686.75,177.3 L687.00,266.5 L687.25,150.1 L687.50,270.5 L687.75,233 L688.00,273.5 L688.25,207.3 L688.50,276.5 L688.75,125.9 L689.00,280.1 L689.25,210.6 L689.50,285.4 L689.75,128.1 L690.00,298.9 L690.25,130.2 L690.50,329.1 L690.75,202.4 L691.00,315.9 L691.25,142.4 L691.50,227.4 L691.75,176.9 L692.00,251 L692.25,88.8 L692.50,262.4 L692.75,218 L693.00,270.1 L693.25,182.7 L693.50,276.9 L693.75,156.1 L694.00,285.2 L694.25,139 L694.50,298.2 L694.75,149.5 L695.00,340 L695.25,168.8 L695.50,340.1 L695.75,211.2 L696.00,265.4 L696.25,212.7 L696.50,205.5 L696.75,209 L697.00,241.9 L697.25,209.5 L697.50,259.9 L697.75,211.3 L698.00,270.5 L698.25,204.4 L698.50,282 L698.75,152.7 L699.00,298.2 L699.25,72.5 L699.50,345.2 L699.75,191.6 L700.00,339.9 L700.25,184 L700.50,280.7 L700.75,123.1 L701.00,234.4 L701.25,193.2 L701.50,216.7 L701.75,180.9 L702.00,252.7 L702.25,201.5 L702.50,275.7 L702.75,185.5 L703.00,295.1 L703.25,107.2 L703.50,346.5 L703.75,129 L704.00,344.7 L704.25,147.6 L704.50,288.4 L704.75,173.2 L705.00,245.6 L705.25,187.5 L705.50,195.3 L705.75,82.1 L706.00,243.7 L706.25,184.3 L706.50,265.5 L706.75,127.8 L707.00,317.2 L707.25,168.6 L707.50,344.7 L707.75,189.6 L708.00,301.3 L708.25,145.8 L708.50,270.5 L708.75,143.9 L709.00,252 L709.25,185.8 L709.50,196.1 L709.75,181 L710.00,248.6 L710.25,177.3 L710.50,281 L710.75,183 L711.00,339.9 L711.25,167.3 L711.50,312.7 L711.75,180.9 L712.00,273.4 L712.25,168 L712.50,257.5 L712.75,111.5 L713.00,231.8 L713.25,177.6 L713.50,214.9 L713.75,144.1 L714.00,317.6 L714.25,175.4 L714.50,331.6 L714.75,153.1 L715.00,287.4 L715.25,120.1 L715.50,263.2 L715.75,17.7 L716.00,255 L716.25,163.2 L716.50,234.3 L716.75,137 L717.00,227.1 L717.25,168.5 L717.50,318.2 L717.75,138.1 L718.00,293.8 L718.25,133.6 L718.50,269.5 L718.75,148.5 L719.00,257.8 L719.25,148.6 L719.50,249.8 L719.75,161.8 L720.00,241.3 L720.25,147 L720.50,294.8 L720.75,157 L721.00,274.5 L721.25,140.9 L721.50,262.6 L721.75,161.3 L722.00,257.3 L722.25,125.3 L722.50,255.3 L722.75,126.1 L723.00,258.9 L723.25,149.1 L723.50,261.4 L723.75,153.2 L724.00,251 L724.25,64.4 L724.50,253.6 L724.75,147.8 L725.00,257.9 L725.25,119.3 L725.50,269.4 L725.75,112.4 L726.00,298.9 L726.25,133.7 L726.50,266.3 L726.75,148.9 L727.00,240.6 L727.25,113.1 L727.50,251.8 L727.75,139.6 L728.00,264.4 L728.25,150.1 L728.50,315.4 L728.75,110.2 L729.00,313.2 L729.25,144 L729.50,220.1 L729.75,136.2 L730.00,244.6 L730.25,109 L730.50,263.7 L730.75,123.4 L731.00,323.8 L731.25,84 L731.50,321.9 L731.75,120 L732.00,215.8 L732.25,132.7 L732.50,236.8 L732.75,142.3 L733.00,274.4 L733.25,140.6 L733.50,327.6 L733.75,125.6 L734.00,302.1 L734.25,139 L734.50,220.1 L734.75,138.8 L735.00,233.9 L735.25,28.9 L735.50,287.8 L735.75,104.7 L736.00,328.1 L736.25,116.4 L736.50,271.1 L736.75,126.8 L737.00,209.2 L737.25,125.8 L737.50,249 L737.75,118.3 L738.00,325.5 L738.25,132.7 L738.50,301.5 L738.75,39 L739.00,241.3 L739.25,116.7 L739.50,216.8 L739.75,110.2 L740.00,319.3 L740.25,110.9 L740.50,319.6 L740.75,118.3 L741.00,257.6 L741.25,115.1 L741.50,225.4 L741.75,126.7 L742.00,300.2 L742.25,113.2 L742.50,309.4 L742.75,118.1 L743.00,256 L743.25,119.1 L743.50,235.7 L743.75,116.9 L744.00,281.4 L744.25,98.3 L744.50,292 L744.75,100.9 L745.00,251.3 L745.25,120.6 L745.50,240.7 L745.75,104.6 L746.00,255.5 L746.25,108.7 L746.50,257.3 L746.75,118 L747.00,242.2 L747.25,117.1 L747.50,245.7 L747.75,116.3 L748.00,273.2 L748.25,115.4 L748.50,233 L748.75,114.5 L749.00,244.6 L749.25,112.8 L749.50,278.7 L749.75,112.8 L750.00,296.4 L750.25,110.4 L750.50,227.7 L750.75,66.1 L751.00,251.6 L751.25,92.8 L751.50,308.1 L751.75,109.3 L752.00,235.6 L752.25,107.8 L752.50,237.6 L752.75,97.9 L753.00,309.5 L753.25,103.2 L753.50,314.2 L753.75,94.6 L754.00,209.9 L754.25,105 L754.50,264.3 L754.75,66.3 L755.00,316.5 L755.25,89.7 L755.50,234.7 L755.75,103.6 L756.00,234.7 L756.25,103.1 L756.50,315.6 L756.75,102.7 L757.00,263 L757.25,102.2 L757.50,217.7 L757.75,94.7 L758.00,311.5 L758.25,92.1 L758.50,263.2 L758.75,92.7 L759.00,222 L759.25,90.2 L759.50,303.7 L759.75,99.8 L760.00,260.4 L760.25,87.4 L760.50,229.5 L760.75,17.7 L761.00,290.3 L761.25,39.5 L761.50,254 L761.75,98 L762.00,232.8 L762.25,86.4 L762.50,265.8 L762.75,94.4 L763.00,242.6 L763.25,96.6 L763.50,233.1 L763.75,89.7 L764.00,244.9 L764.25,95.6 L764.50,231.8 L764.75,95.1 L765.00,254.5 L765.25,86.8 L765.50,278.8 L765.75,94 L766.00,234.4 L766.25,90.9 L766.50,294.6 L766.75,89.4 L767.00,270.1 L767.25,92.8 L767.50,241.5 L767.75,85 L768.00,303 L768.25,91.9 L768.50,209.1 L768.75,85.4 L769.00,301.5 L769.25,87.3 L769.50,307 L769.75,90.4 L770.00,230.6 L770.25,90 L770.50,307.7 L770.75,82.6 L771.00,240.8 L771.25,86.2 L771.50,300.5 L771.75,85.4 L772.00,305.2 L772.25,17.7 L772.50,208.5 L772.75,87.6 L773.00,299.3 L773.25,80.9 L773.50,238.5 L773.75,85 L774.00,289 L774.25,86.2 L774.50,250.1 L774.75,84.3 L775.00,218.2 L775.25,81.5 L775.50,270.7 L775.75,84.8 L776.00,225.4 L776.25,84.3 L776.50,232.2 L776.75,83.9 L777.00,226.3 L777.25,83 L777.50,260.1 L777.75,77.8 L778.00,222.8 L778.25,79.9 L778.50,281.5 L778.75,81.7 L779.00,214.3 L779.25,75.4 L779.50,292.6 L779.75,79.3 L780.00,289.6 L780.25,80.6 L780.50,288 L780.75,78.9 L781.00,298.6 L781.25,75.9 L781.50,251.3 L781.75,74.1 L782.00,300.8 L782.25,78.7 L782.50,242.2 L782.75,78.2 L783.00,299.8 L783.25,74.9 L783.50,232.4 L783.75,77.3 L784.00,295.6 L784.25,76.6 L784.50,218.9 L784.75,76.4 L785.00,287.6 L785.25,75.1 L785.50,245 L785.75,72.8 L786.00,273.5 L786.25,75 L786.50,239.4 L786.75,74.5 L787.00,246.7 L787.25,70.4 L787.50,237.6 L787.75,73.6 L788.00,217.5 L788.25,71.7 L788.50,267.9 L788.75,60.6 L789.00,220.7 L789.25,72.1 L789.50,282.6 L789.75,71.7 L790.00,228 L790.25,71.2 L790.50,290.6 L790.75,68.5 L791.00,285.8 L791.25,70.3 L791.50,294.3 L791.75,65.3 L792.00,294.8 L792.25,69.3 L792.50,240.8 L792.75,68.9 L793.00,292.2 L793.25,66.6 L793.50,217.8 L793.75,67.9 L794.00,286.1 L794.25,66.7 L794.50,274.9 L794.75,67 L795.00,235.7 L795.25,66.5 L795.50,255.4 L795.75,65.3 L796.00,215.5 L796.25,65.6 L796.50,213 L796.75,64.9 L797.00,252.4 L797.25,64.6 L797.50,226.5 L797.75,64.2 L798.00,272.2 L798.25,63.7 L798.50,282.7 L798.75,63.2 L799.00,221.4 L799.25,59.7 L799.50,288 L799.75,62.3 L800.00,290 L800.25,24 L800.50,234.3 L800.75,54 L801.00,288.9 L801.25,60.9 L801.50,284.3 L801.75,60.4 L802.00,237.3 L802.25,57.8 L802.50,275.7 L802.75,59.5 L803.00,260.8 L803.25,55.2 L803.50,217.2 L803.75,58.5 L804.00,231.3 L804.25,58 L804.50,233.2 L804.75,57.5 L805.00,209.5 L805.25,54.7 L805.20,211.4" fill="none" stroke="#ff0000" stroke-width="0.56" stroke-linejoin="round"/><path d="M697.75,211.3V23.7M702.25,201.5V23.7M707.75,189.6V23.7M711.75,180.9V113.2M713.25,177.6V23.7M714.25,175.4V23.7M721.75,161.3V23.7M728.25,150.1V30.1M732.75,142.3V23.7M734.75,138.8V23.7M738.25,132.7V90.9M741.75,126.7V71.6M745.25,120.6V110.8M746.75,118V23.7M747.25,117.1V23.7M747.75,116.3V23.7M748.25,115.4V23.7M748.75,114.5V39.3M749.75,112.8V23.7M751.75,109.3V23.7M754.25,105V23.7M755.75,103.6V37.6M756.25,103.1V23.7M756.75,102.7V23.7M757.25,102.2V23.7M759.75,99.8V23.7M761.75,98V31.6M763.25,96.6V23.7M764.25,95.6V23.7M764.75,95.1V23.7M767.25,92.8V23.7M768.25,91.9V23.7M769.75,90.4V88.3M770.25,90V23.7M772.75,87.6V85M774.25,86.2V23.7M775.75,84.8V81.6M776.25,84.3V23.7M776.75,83.9V23.7M780.25,80.6V42.5M782.25,78.7V23.7M782.75,78.2V23.7M783.75,77.3V23.7M784.75,76.4V58.1M786.25,75V23.7M786.75,74.5V23.7M787.75,73.6V27.2M789.25,72.1V59.8M789.75,71.7V23.7M790.25,71.2V23.7M791.25,70.3V23.7M792.25,69.3V56.4M792.75,68.9V23.7M793.75,67.9V25.8M794.75,67V23.7M795.25,66.5V23.7M796.25,65.6V23.7M797.75,64.2V23.7M798.25,63.7V23.7M798.75,63.2V23.7M799.75,62.3V41.2M801.25,60.9V54.7M801.75,60.4V23.7M802.75,59.5V23.7M803.75,58.5V23.7M804.25,58V23.7M804.75,57.5V23.7" fill="none" stroke="#ff0000" stroke-width="0.55"/></g><path d="M89.7,479.11h2.5M805.2,479.11h-2.5M89.7,465.10h2.5M805.2,465.10h-2.5M89.7,455.16h2.5M805.2,455.16h-2.5M89.7,447.45h2.5M805.2,447.45h-2.5M89.7,441.15h2.5M805.2,441.15h-2.5M89.7,435.82h2.5M805.2,435.82h-2.5M89.7,431.21h2.5M805.2,431.21h-2.5M89.7,427.14h2.5M805.2,427.14h-2.5M89.7,399.55h2.5M805.2,399.55h-2.5M89.7,385.54h2.5M805.2,385.54h-2.5M89.7,375.60h2.5M805.2,375.60h-2.5M89.7,367.89h2.5M805.2,367.89h-2.5M89.7,361.59h2.5M805.2,361.59h-2.5M89.7,356.26h2.5M805.2,356.26h-2.5M89.7,351.65h2.5M805.2,351.65h-2.5M89.7,347.58h2.5M805.2,347.58h-2.5M89.7,319.99h2.5M805.2,319.99h-2.5M89.7,305.98h2.5M805.2,305.98h-2.5M89.7,296.04h2.5M805.2,296.04h-2.5M89.7,288.33h2.5M805.2,288.33h-2.5M89.7,282.03h2.5M805.2,282.03h-2.5M89.7,276.70h2.5M805.2,276.70h-2.5M89.7,272.09h2.5M805.2,272.09h-2.5M89.7,268.02h2.5M805.2,268.02h-2.5M89.7,240.43h2.5M805.2,240.43h-2.5M89.7,226.42h2.5M805.2,226.42h-2.5M89.7,216.48h2.5M805.2,216.48h-2.5M89.7,208.77h2.5M805.2,208.77h-2.5M89.7,202.47h2.5M805.2,202.47h-2.5M89.7,197.14h2.5M805.2,197.14h-2.5M89.7,192.53h2.5M805.2,192.53h-2.5M89.7,188.46h2.5M805.2,188.46h-2.5M89.7,160.87h2.5M805.2,160.87h-2.5M89.7,146.86h2.5M805.2,146.86h-2.5M89.7,136.92h2.5M805.2,136.92h-2.5M89.7,129.21h2.5M805.2,129.21h-2.5M89.7,122.91h2.5M805.2,122.91h-2.5M89.7,117.58h2.5M805.2,117.58h-2.5M89.7,112.97h2.5M805.2,112.97h-2.5M89.7,108.90h2.5M805.2,108.90h-2.5M89.7,81.31h2.5M805.2,81.31h-2.5M89.7,67.30h2.5M805.2,67.30h-2.5M89.7,57.36h2.5M805.2,57.36h-2.5M89.7,49.65h2.5M805.2,49.65h-2.5M89.7,43.35h2.5M805.2,43.35h-2.5M89.7,38.02h2.5M805.2,38.02h-2.5M89.7,33.41h2.5M805.2,33.41h-2.5M89.7,29.34h2.5M805.2,29.34h-2.5M159.71,526.7v-2.5M159.71,25.7v2.5M207.09,526.7v-2.5M207.09,25.7v2.5M240.71,526.7v-2.5M240.71,25.7v2.5M288.10,526.7v-2.5M288.10,25.7v2.5M306.12,526.7v-2.5M306.12,25.7v2.5M321.72,526.7v-2.5M321.72,25.7v2.5M335.49,526.7v-2.5M335.49,25.7v2.5M428.81,526.7v-2.5M428.81,25.7v2.5M476.19,526.7v-2.5M476.19,25.7v2.5M509.81,526.7v-2.5M509.81,25.7v2.5M557.20,526.7v-2.5M557.20,25.7v2.5M575.22,526.7v-2.5M575.22,25.7v2.5M590.82,526.7v-2.5M590.82,25.7v2.5M604.59,526.7v-2.5M604.59,25.7v2.5M697.91,526.7v-2.5M697.91,25.7v2.5M745.29,526.7v-2.5M745.29,25.7v2.5M778.91,526.7v-2.5M778.91,25.7v2.5" stroke="#000" stroke-width="1.05" fill="none"/><path d="M89.7,503.06h4.2M805.2,503.06h-4.2M89.7,423.50h4.2M805.2,423.50h-4.2M89.7,343.94h4.2M805.2,343.94h-4.2M89.7,264.38h4.2M805.2,264.38h-4.2M89.7,184.82h4.2M805.2,184.82h-4.2M89.7,105.26h4.2M805.2,105.26h-4.2M89.7,25.70h4.2M805.2,25.70h-4.2M266.79,526.7v-4.2M266.79,25.7v4.2M347.80,526.7v-4.2M347.80,25.7v4.2M535.89,526.7v-4.2M535.89,25.7v4.2M616.90,526.7v-4.2M616.90,25.7v4.2M804.99,526.7v-4.2M804.99,25.7v4.2" stroke="#000" stroke-width="1.9" fill="none"/><rect x="89.7" y="25.7" width="715.5" height="501.00000000000006" fill="none" stroke="#000" stroke-width="2.4"/><g class="tx"><text transform="translate(44.17,34.60) scale(1,1.09)" font-size="19.7" fill="#000" letter-spacing="0.18">10</text><text transform="translate(77.69,26.10) scale(1,1.09)" font-size="13.9" fill="#000">5</text><text transform="translate(44.17,114.16) scale(1,1.09)" font-size="19.7" fill="#000" letter-spacing="0.18">10</text><text transform="translate(77.56,105.66) scale(1,1.09)" font-size="13.9" fill="#000">6</text><text transform="translate(44.17,193.72) scale(1,1.09)" font-size="19.7" fill="#000" letter-spacing="0.18">10</text><text transform="translate(77.55,185.22) scale(1,1.09)" font-size="13.9" fill="#000">7</text><text transform="translate(44.17,273.28) scale(1,1.09)" font-size="19.7" fill="#000" letter-spacing="0.18">10</text><text transform="translate(77.68,264.78) scale(1,1.09)" font-size="13.9" fill="#000">8</text><text transform="translate(44.17,352.84) scale(1,1.09)" font-size="19.7" fill="#000" letter-spacing="0.18">10</text><text transform="translate(77.72,344.34) scale(1,1.09)" font-size="13.9" fill="#000">9</text><text transform="translate(37.67,432.40) scale(1,1.09)" font-size="19.7" fill="#000" letter-spacing="0.18">10</text><text transform="translate(70.68,423.90) scale(1,1.09)" font-size="13.9" fill="#000" letter-spacing="-0.45">10</text><text transform="translate(37.67,511.96) scale(1,1.09)" font-size="19.7" fill="#000" letter-spacing="0.18">10</text><text transform="translate(70.48,503.46) scale(1,1.09)" font-size="13.9" fill="#000" letter-spacing="-0.34">11</text><text transform="translate(230.36,551.50) scale(1,1.09)" font-size="19.7" fill="#000">5</text><text transform="translate(260.57,551.50) scale(1,1.09)" font-size="19.7" fill="#000" letter-spacing="-0.32">10</text><text transform="translate(293.99,544.30) scale(1,1.09)" font-size="13.9" fill="#000">5</text><text transform="translate(312.17,551.50) scale(1,1.09)" font-size="19.7" fill="#000">1</text><text transform="translate(342.07,551.50) scale(1,1.09)" font-size="19.7" fill="#000" letter-spacing="-0.52">10</text><text transform="translate(374.53,544.30) scale(1,1.09)" font-size="13.9" fill="#000">4</text><text transform="translate(500.06,551.50) scale(1,1.09)" font-size="19.7" fill="#000">5</text><text transform="translate(530.07,551.50) scale(1,1.09)" font-size="19.7" fill="#000" letter-spacing="-0.62">10</text><text transform="translate(563.53,544.30) scale(1,1.09)" font-size="13.9" fill="#000">4</text><text transform="translate(592.95,549.00) scale(1,1.09)" font-size="19.7" fill="#000" letter-spacing="-0.30">0.001</text><text transform="translate(781.55,549.00) scale(1,1.09)" font-size="19.7" fill="#000" letter-spacing="-0.35">0.005</text><text transform="translate(417.39,581.50) scale(1,1.09)" font-size="19.7" fill="#000">m</text><text transform="translate(436.34,581.50) scale(1,1.09)" font-size="19.7" fill="#000">[</text><text transform="translate(443.83,581.50) scale(1,1.09)" font-size="19.7" fill="#000">e</text><text transform="translate(454.98,581.50) scale(1,1.09)" font-size="19.7" fill="#000">V</text><text transform="translate(472.09,581.50) scale(1,1.09)" font-size="19.7" fill="#000">]</text><g transform="translate(23,317) rotate(-90)"><text transform="translate(-0.85,0.00) scale(1,1.09)" font-size="19.7" fill="#000">g</text><text transform="translate(10.84,0.00) scale(1,1.09)" font-size="19.7" fill="#000">[</text><text transform="translate(18.79,0.00) scale(1,1.09)" font-size="19.7" fill="#000">G</text><text transform="translate(34.23,0.00) scale(1,1.09)" font-size="19.7" fill="#000">e</text><text transform="translate(44.08,0.00) scale(1,1.09)" font-size="19.7" fill="#000">V</text><path d="M60.5,-14.3H66.4" stroke="#000" stroke-width="1.05" fill="none"/><text transform="translate(67.78,-9.00) scale(1,1.09)" font-size="13.9" fill="#000">1</text><text transform="translate(76.09,0.00) scale(1,1.09)" font-size="19.7" fill="#000">]</text></g><text transform="translate(254.03,111.90) scale(1,1.09)" font-size="17.3" fill="#fff" letter-spacing="-0.62">ALPS</text><text transform="translate(307.77,111.90) scale(1,1.09)" font-size="17.3" fill="#fff">I</text><text transform="translate(323.50,111.90) scale(1,1.09)" font-size="17.3" fill="#fff" letter-spacing="1.22">vacuum</text><text transform="translate(392.84,111.90) scale(1,1.09)" font-size="17.3" fill="#fff">(</text><text transform="translate(401.24,111.90) scale(1,1.09)" font-size="17.3" fill="#fff" letter-spacing="0.34">2010</text><text transform="translate(436.64,111.90) scale(1,1.09)" font-size="17.3" fill="#fff">)</text><text transform="translate(167.63,326.50) scale(1,1.09)" font-size="17.3" fill="#fff" letter-spacing="-0.25">ALPS</text><text transform="translate(220.37,326.50) scale(1,1.09)" font-size="17.3" fill="#fff" letter-spacing="1.63">IIc</text><text transform="translate(252.60,326.50) scale(1,1.09)" font-size="17.3" fill="#fff" letter-spacing="1.22">vacuum</text><text transform="translate(455.43,470.60) scale(1,1.09)" font-size="17.3" fill="#ff0000" letter-spacing="-0.19">ALPS</text><text transform="translate(509.57,470.60) scale(1,1.09)" font-size="17.3" fill="#ff0000" letter-spacing="1.63">IIc</text><text transform="translate(540.40,470.60) scale(1,1.09)" font-size="17.3" fill="#ff0000" letter-spacing="0.92">Helium</text><text transform="translate(601.34,470.60) scale(1,1.09)" font-size="17.3" fill="#ff0000">,</text><text transform="translate(612.24,470.60) scale(1,1.09)" font-size="17.3" fill="#ff0000" letter-spacing="0.36">0.017</text><text transform="translate(654.84,470.60) scale(1,1.09)" font-size="17.3" fill="#ff0000" letter-spacing="1.39">mbar</text><path d="M67.70,22.30H74.90" stroke="#000" stroke-width="1.05" fill="none"/><path d="M67.70,101.86H74.90" stroke="#000" stroke-width="1.05" fill="none"/><path d="M67.70,181.42H74.90" stroke="#000" stroke-width="1.05" fill="none"/><path d="M67.70,260.98H74.90" stroke="#000" stroke-width="1.05" fill="none"/><path d="M67.70,340.54H74.90" stroke="#000" stroke-width="1.05" fill="none"/><path d="M61.30,420.10H68.90" stroke="#000" stroke-width="1.05" fill="none"/><path d="M61.30,499.66H68.90" stroke="#000" stroke-width="1.05" fill="none"/><path d="M246.20,541.60L256.90,551.20M246.20,551.20L256.90,541.60" stroke="#000" stroke-width="1.05" fill="none"/><path d="M285.70,539.40H292.70" stroke="#000" stroke-width="1.05" fill="none"/><path d="M327.50,541.60L338.30,551.20M327.50,551.20L338.30,541.60" stroke="#000" stroke-width="1.05" fill="none"/><path d="M366.00,539.40H373.30" stroke="#000" stroke-width="1.05" fill="none"/><path d="M515.50,541.60L526.40,551.20M515.50,551.20L526.40,541.60" stroke="#000" stroke-width="1.05" fill="none"/><path d="M554.00,539.40H561.20" stroke="#000" stroke-width="1.05" fill="none"/><path d="M296.70,107.30H306.40" stroke="#fff" stroke-width="1.3" fill="none"/><path d="M210.80,321.90H219.80" stroke="#fff" stroke-width="1.3" fill="none"/><path d="M498.60,466.00H508.00" stroke="#ff0000" stroke-width="1.3" fill="none"/></g></svg>
</body></html>
